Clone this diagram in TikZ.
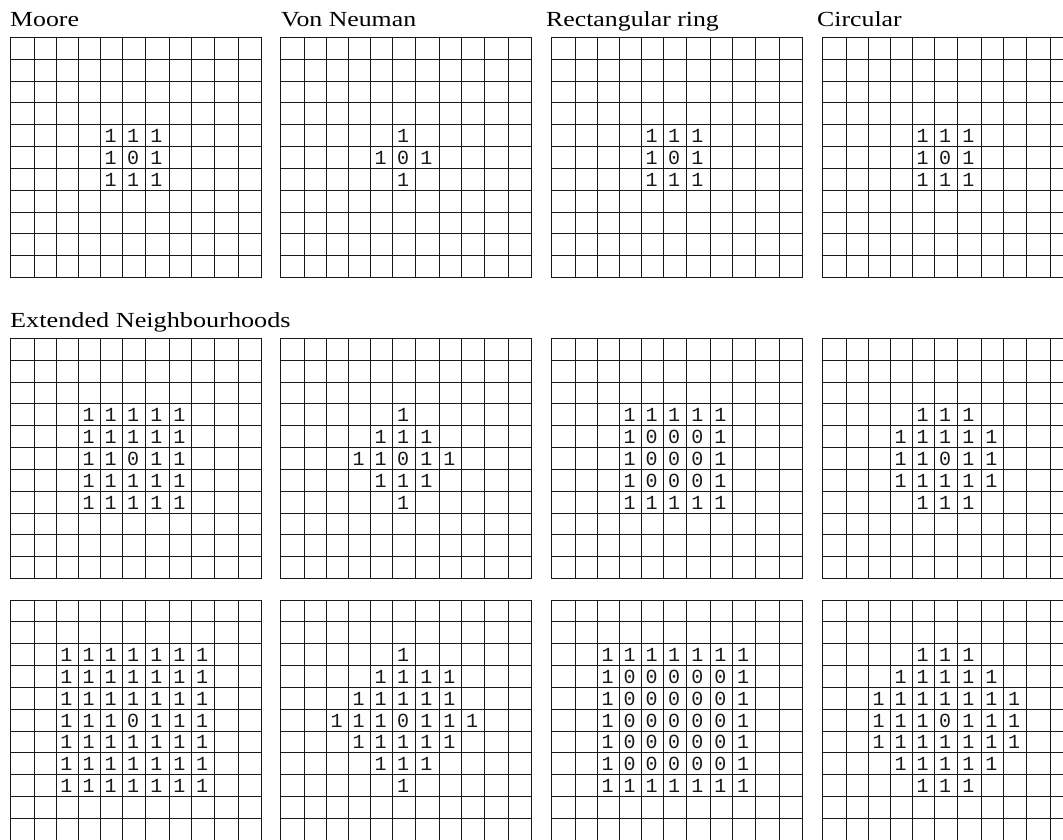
\documentclass[tikz,border=0pt]{standalone}
\usepackage{fontspec}
\setmainfont{Liberation Serif}
\newfontfamily\digitfont{Liberation Mono}
\usepackage{graphicx}
\tikzset{
  gridline/.style={draw=black!90, line width=1.1pt, line cap=rect},
  digit/.style={font=\digitfont\fontsize{20}{20}\selectfont, inner sep=0pt, text=black!90},
  title/.style={font=\fontsize{21.5}{24}\selectfont, inner sep=0pt, anchor=base west}
}
\def\colx{{0,24.3,46.7,68.3,90.7,112.7,135.7,159,181.7,204.3,228.3,251}}
\def\rh{21.85}
\newcommand\drawgrid[2]{%
  \pgfmathsetmacro\gtop{floor(#2)+0.5}%
  \pgfmathsetmacro\gbot{floor(#2+11*\rh)+0.5}%
  \pgfmathsetmacro\gl{floor(#1)+0.5}%
  \pgfmathsetmacro\gr{floor(#1+251)+0.5}%
  \foreach \r in {0,...,11}{%
    \pgfmathsetmacro\gy{floor(#2+\r*\rh)+0.5}%
    \draw[gridline] (\gl,\gy) -- (\gr,\gy);}%
  \foreach \c in {0,...,11}{%
    \pgfmathsetmacro\gx{floor(#1+\colx[\c])+0.5}%
    \draw[gridline] (\gx,\gtop) -- (\gx,\gbot);}%
}
\newcommand\putcell[6]{%
  \pgfmathsetmacro\cx{#2+(\colx[#5]+\colx[#5+1])/2-1}%
  \pgfmathsetmacro\cy{#3+(#4+0.5)*\rh+0.3}%
  \node[digit] (#1-#4-#5) at (\cx,\cy) {#6};}
\newcommand\putrow[6]{%
  \foreach \c in {#5,...,#6}{%
    \def\t{1}%
    \ifnum#4=5 \ifnum\c=5 \def\t{0}\fi\fi
    \putcell{#1}{#2}{#3}{#4}{\c}{\t}}}
\newcommand\putring[4]{%
  \pgfmathtruncatemacro\lo{5-#4}%
  \pgfmathtruncatemacro\hi{5+#4}%
  \foreach \r in {\lo,...,\hi}{%
    \foreach \c in {\lo,...,\hi}{%
      \def\t{0}%
      \ifnum\r=\lo\relax \def\t{1}\fi
      \ifnum\r=\hi\relax \def\t{1}\fi
      \ifnum\c=\lo\relax \def\t{1}\fi
      \ifnum\c=\hi\relax \def\t{1}\fi
      \putcell{#1}{#2}{#3}{\r}{\c}{\t}}}}
\begin{document}
\begin{tikzpicture}[x=1pt,y=-1pt]
\useasboundingbox (0,0) rectangle (1063,839);
\clip (0,0) rectangle (1063,839);
% titles
\node[title] (tmoore) at (10,26.5) {\scalebox{1.2}[1]{Moore}};
\node[title] (tvon) at (281,26.5) {\scalebox{1.2}[1]{Von Neuman}};
\node[title] (trect) at (546,26.5) {\scalebox{1.2}[1]{Rectangular ring}};
\node[title] (tcirc) at (817,26.5) {\scalebox{1.2}[1]{Circular}};
\node[title] (text) at (10,327) {\scalebox{1.22}[1]{Extended Neighbourhoods}};
% grids
\foreach \gx in {10,280,551,822}{%
  \foreach \gy in {37.3,338.3,600}{%
    \drawgrid{\gx}{\gy}}}
% row 1
\foreach \r in {4,5,6}{\putrow{a1}{10}{37.3}{\r}{4}{6}}
\putrow{a2}{280}{37.3}{4}{5}{5}
\putrow{a2}{280}{37.3}{5}{4}{6}
\putrow{a2}{280}{37.3}{6}{5}{5}
\putring{a3}{551}{37.3}{1}
\foreach \r in {4,5,6}{\putrow{a4}{822}{37.3}{\r}{4}{6}}
% row 2
\foreach \r in {3,...,7}{\putrow{b1}{10}{338.3}{\r}{3}{7}}
\putrow{b2}{280}{338.3}{3}{5}{5}
\putrow{b2}{280}{338.3}{4}{4}{6}
\putrow{b2}{280}{338.3}{5}{3}{7}
\putrow{b2}{280}{338.3}{6}{4}{6}
\putrow{b2}{280}{338.3}{7}{5}{5}
\putring{b3}{551}{338.3}{2}
\putrow{b4}{822}{338.3}{3}{4}{6}
\putrow{b4}{822}{338.3}{4}{3}{7}
\putrow{b4}{822}{338.3}{5}{3}{7}
\putrow{b4}{822}{338.3}{6}{3}{7}
\putrow{b4}{822}{338.3}{7}{4}{6}
% row 3
\foreach \r in {2,...,8}{\putrow{c1}{10}{600}{\r}{2}{8}}
\putrow{c2}{280}{600}{2}{5}{5}
\putrow{c2}{280}{600}{3}{4}{7}
\putrow{c2}{280}{600}{4}{3}{7}
\putrow{c2}{280}{600}{5}{2}{8}
\putrow{c2}{280}{600}{6}{3}{7}
\putrow{c2}{280}{600}{7}{4}{6}
\putrow{c2}{280}{600}{8}{5}{5}
\putring{c3}{551}{600}{3}
\putrow{c4}{822}{600}{2}{4}{6}
\putrow{c4}{822}{600}{3}{3}{7}
\putrow{c4}{822}{600}{4}{2}{8}
\putrow{c4}{822}{600}{5}{2}{8}
\putrow{c4}{822}{600}{6}{2}{8}
\putrow{c4}{822}{600}{7}{3}{7}
\putrow{c4}{822}{600}{8}{4}{6}
\end{tikzpicture}
\end{document}
